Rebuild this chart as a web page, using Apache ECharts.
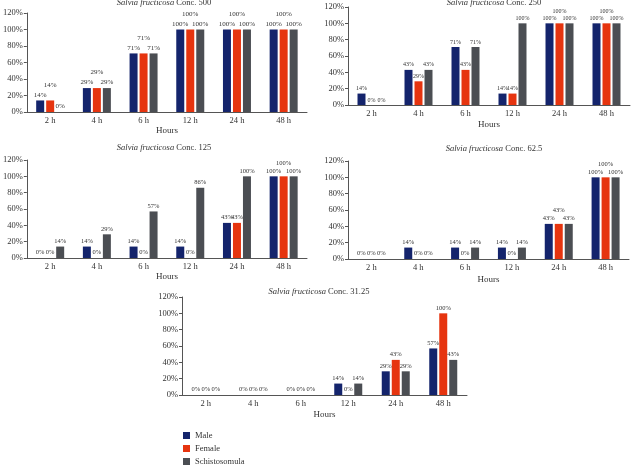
<!DOCTYPE html>
<html><head><meta charset="utf-8">
<script src="https://cdn.jsdelivr.net/npm/echarts@6/dist/echarts.min.js"></script>
<style>html,body{margin:0;padding:0;background:#fff}#c{width:632px;height:465px}</style>
</head><body><div id="c"></div>
<script>
const categories = ['2 h','4 h','6 h','12 h','24 h','48 h'];
const seriesNames = ['Male','Female','Schistosomula'];
const yTicks = [0,20,40,60,80,100,120];
const concLabels = ['500','250','125','62.5','31.25'];

const male500 = [14,29,71,100,100,100];
const female500 = [14,29,71,100,100,100];
const schisto500 = [0,29,71,100,100,100];

const male250 = [14,43,71,14,100,100];
const female250 = [0,29,43,14,100,100];
const schisto250 = [0,43,71,100,100,100];

const male125 = [0,14,14,14,43,100];
const female125 = [0,0,0,0,43,100];
const schisto125 = [14,29,57,86,100,100];

const male62 = [0,14,14,14,43,100];
const female62 = [0,0,0,0,43,100];
const schisto62 = [0,0,14,14,43,100];

const male31 = [0,0,0,14,29,57];
const female31 = [0,0,0,0,43,100];
const schisto31 = [0,0,0,14,29,43];

const panelData = [
  [male500, female500, schisto500],
  [male250, female250, schisto250],
  [male125, female125, schisto125],
  [male62, female62, schisto62],
  [male31, female31, schisto31]
];

// layout (not data)
const grids = [
  {left:23, top:13, width:284, height:99, nameGap:12, titleX:164, titleY:3, lab:7, raise:10},
  {left:348, top:7, width:282, height:98, nameGap:15, titleX:494, titleY:3, lab:6, raise:7},
  {left:23, top:160, width:284, height:98, nameGap:14, titleX:164, titleY:148, lab:6.5, raise:8},
  {left:348, top:161, width:281, height:98, nameGap:16, titleX:494, titleY:149, lab:6.5, raise:8},
  {left:182, top:297, width:285, height:98, nameGap:15, titleX:319, titleY:292, lab:6.5, raise:8}
];
// which female labels are raised to avoid overlap (per panel, category indices)
const raisedFemale = [[0,1,2,3,4,5],[4,5],[5],[4,5],[]];
const colors = ['#14246c','#e6340f','#4b4e53'];
const serif = '"Liberation Serif","DejaVu Serif",serif';
const legendTops = [431,444,457];

const option = {
  animation:false,
  textStyle:{fontFamily:serif},
  grid: grids.map(g=>({left:g.left, top:g.top, width:g.width, height:g.height})),
  xAxis: grids.map((g,i)=>({
    type:'category', gridIndex:i, data:categories,
    name:'Hours', nameLocation:'middle', nameGap:g.nameGap,
    nameTextStyle:{fontFamily:serif, fontSize:9, color:'#333'},
    axisLine:{lineStyle:{color:'#555', width:1}},
    axisTick:{show:false},
    axisLabel:{fontFamily:serif, fontSize:8.5, color:'#333', margin:4}
  })),
  yAxis: grids.map((g,i)=>({
    type:'value', gridIndex:i, min:yTicks[0], max:yTicks[yTicks.length-1], interval:yTicks[1]-yTicks[0],
    axisLine:{show:true, lineStyle:{color:'#555', width:1}},
    axisTick:{show:true, length:3, lineStyle:{color:'#555'}},
    splitLine:{show:false},
    axisLabel:{fontFamily:serif, fontSize:8.5, color:'#333', margin:4, formatter:'{value}%'}
  })),
  legend: seriesNames.map((n,i)=>({
    left:183, top:legendTops[i], itemWidth:7, itemHeight:7, padding:0,
    icon:'rect', data:[n],
    textStyle:{fontFamily:serif, fontSize:8.5, color:'#333'}
  })),
  graphic: grids.map((g,i)=>({
    type:'text', x:g.titleX, y:g.titleY,
    style:{
      text:'{i|Salvia fructicosa} Conc. '+concLabels[i],
      align:'center', verticalAlign:'middle',
      fontFamily:serif, fontSize:8.5, fill:'#333',
      rich:{i:{fontStyle:'italic', fontFamily:serif, fontSize:8.5, fill:'#333', color:'#333'}}
    }
  })),
  series:[]
};

panelData.forEach((arrs,p)=>{
  const g = grids[p];
  arrs.forEach((vals,s)=>{
    option.series.push({
      type:'bar', name:seriesNames[s], xAxisIndex:p, yAxisIndex:p,
      barWidth:8, barGap:'25%',
      itemStyle:{color:colors[s]},
      data: vals.map((v,k)=>{
        const d = {value:v};
        if (s===1 && raisedFemale[p].indexOf(k)>=0) d.label = {offset:[0,-g.raise]};
        return d;
      }),
      label:{show:true, position:'top', distance:2, fontFamily:serif, fontSize:g.lab, color:'#333', formatter:'{c}%'}
    });
  });
});

echarts.init(document.getElementById('c')).setOption(option);
</script></body></html>
